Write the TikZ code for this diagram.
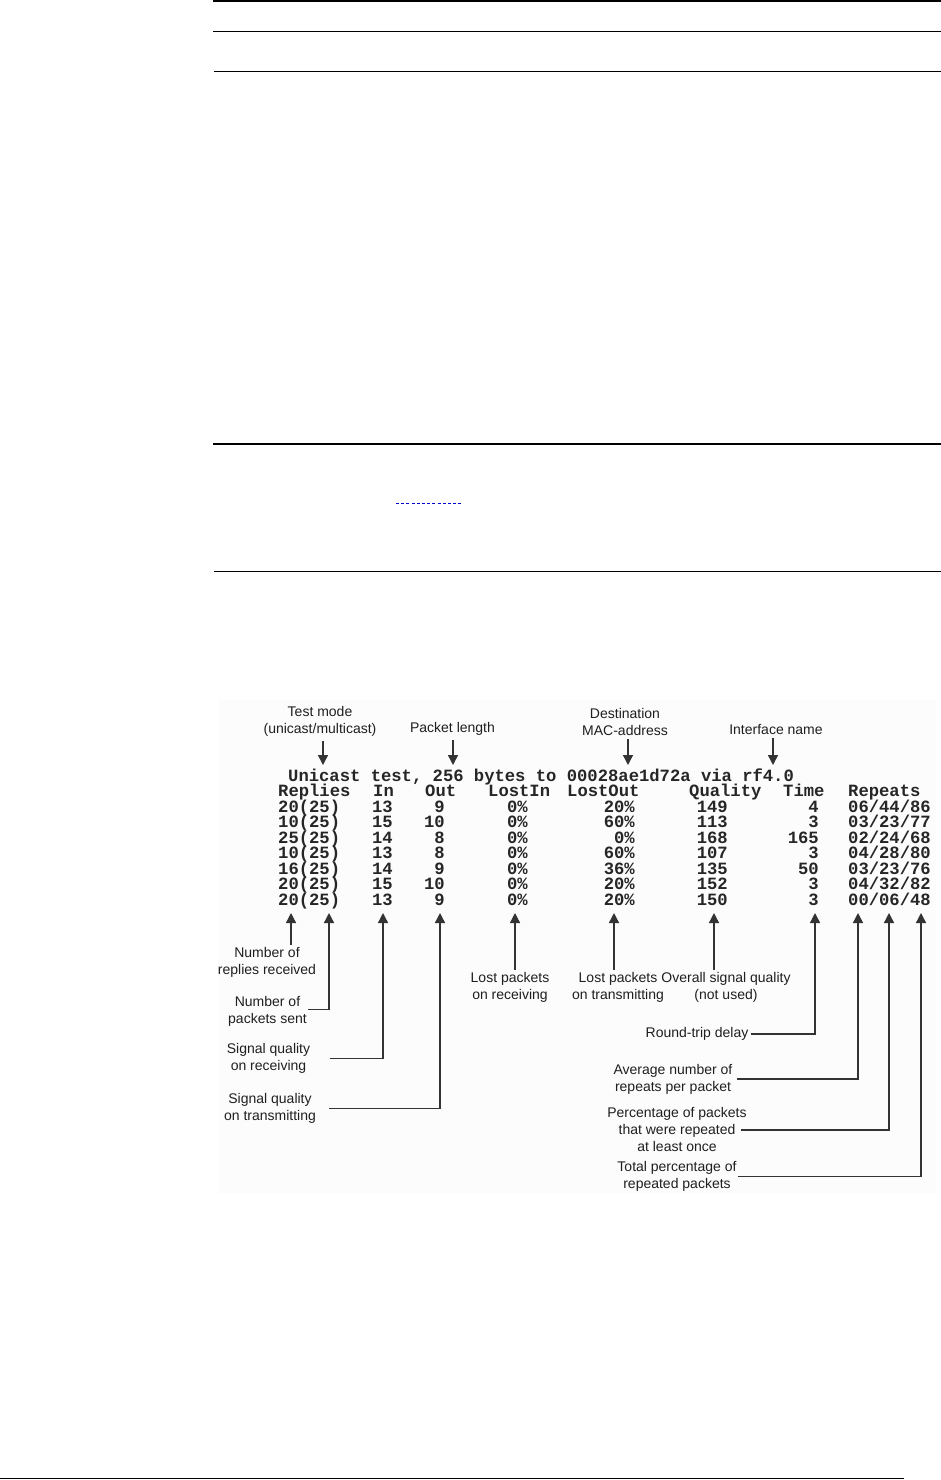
\documentclass[tikz,border=0pt]{standalone}
\usepackage{fontspec}
\setmainfont{Liberation Sans}
\newfontfamily\termfont{Liberation Mono}
\usetikzlibrary{arrows.meta}
\newcommand\datarow[9]{%
  \node[term,anchor=base west] (r#1a) at (278,{796.5+15.5*#1}) {#2};
  \node[term,anchor=base east] (r#1b) at (393,{796.5+15.5*#1}) {#3};
  \node[term,anchor=base east] (r#1c) at (445,{796.5+15.5*#1}) {#4};
  \node[term,anchor=base east] (r#1d) at (528,{796.5+15.5*#1}) {#5};
  \node[term,anchor=base east] (r#1e) at (635,{796.5+15.5*#1}) {#6};
  \node[term,anchor=base east] (r#1f) at (728,{796.5+15.5*#1}) {#7};
  \node[term,anchor=base east] (r#1g) at (819,{796.5+15.5*#1}) {#8};
  \node[term,anchor=base west] (r#1h) at (848,{796.5+15.5*#1}) {#9};
}
\begin{document}
\begin{tikzpicture}[x=1pt,y=-1pt,
  term/.style={font=\termfont\bfseries\fontsize{17.2}{17.2}\selectfont, text=black!85, inner sep=0pt},
  lbl/.style={font=\fontsize{14}{17}\selectfont, text=black!88, align=center, inner sep=0pt},
  arr/.style={draw=black!80, line width=1.4pt, -{Triangle[width=10pt,length=10pt]}},
  hrule/.style={draw=black, line width=#1}
]
\useasboundingbox (0,0) rectangle (941,1480);
\fill[white] (0,0) rectangle (941,1480);

% page rules
\draw[hrule=2.4pt] (213,1.2) -- (941,1.2);
\draw[hrule=1pt] (213,31.3) -- (941,31.3);
\draw[hrule=1pt] (214,72) -- (941,72);
\draw[hrule=2pt] (213,444) -- (941,444);
\draw[draw={rgb,255:red,0;green,0;blue,210}, line width=1pt, dash pattern=on 3pt off 2.2pt] (396,503) -- (462,503);
\draw[hrule=1pt] (214,571) -- (941,571);
\draw[hrule=1pt] (0,1478) -- (904,1478);

% screenshot background
\fill[black!1] (218,700) rectangle (936,1193);

% console text
\node[term,anchor=base west] (title) at (288,781) {Unicast test, 256 bytes to 00028ae1d72a via rf4.0};
\node[term,anchor=base west] (h1) at (278,796.5) {Replies};
\node[term,anchor=base west] (h2) at (373,796.5) {In};
\node[term,anchor=base west] (h3) at (425,796.5) {Out};
\node[term,anchor=base west] (h4) at (488,796.5) {LostIn};
\node[term,anchor=base west] (h5) at (567,796.5) {LostOut};
\node[term,anchor=base west] (h6) at (689,796.5) {Quality};
\node[term,anchor=base west] (h7) at (783,796.5) {Time};
\node[term,anchor=base west] (h8) at (848,796.5) {Repeats};
\datarow{1}{20(25)}{13}{9}{0\%}{20\%}{149}{4}{06/44/86}
\datarow{2}{10(25)}{15}{10}{0\%}{60\%}{113}{3}{03/23/77}
\datarow{3}{25(25)}{14}{8}{0\%}{0\%}{168}{165}{02/24/68}
\datarow{4}{10(25)}{13}{8}{0\%}{60\%}{107}{3}{04/28/80}
\datarow{5}{16(25)}{14}{9}{0\%}{36\%}{135}{50}{03/23/76}
\datarow{6}{20(25)}{15}{10}{0\%}{20\%}{152}{3}{04/32/82}
\datarow{7}{20(25)}{13}{9}{0\%}{20\%}{150}{3}{00/06/48}

% top labels
\coordinate (tTM) at (323,765);
\coordinate (tPL) at (453,765);
\coordinate (tDM) at (628,765);
\coordinate (tIN) at (773,765);
\node[lbl] (tm) at (320,721.5) {Test mode\\(unicast/multicast)};
\node[lbl] (pl) at (452.5,729) {Packet length};
\node[lbl] (dm) at (625,721.5) {Destination\\MAC-address};
\node[lbl] (in) at (776,729) {Interface name};
\draw[arr] ([yshift=-4pt]tm.south -| tTM) -- (tTM);
\draw[arr] ([yshift=-4pt]pl.south -| tPL) -- (tPL);
\draw[arr] ([yshift=-4pt]dm.south -| tDM) -- (tDM);
\draw[arr] ([yshift=-4pt]in.south -| tIN) -- (tIN);

% bottom tips
\coordinate (b1) at (291,913);
\coordinate (b2) at (329,913);
\coordinate (b3) at (383,913);
\coordinate (b4) at (440,913);
\coordinate (b5) at (515,913);
\coordinate (b6) at (614,913);
\coordinate (b7) at (714,913);
\coordinate (b8) at (815,913);
\coordinate (b9) at (858,913);
\coordinate (b10) at (889,913);
\coordinate (b11) at (921,913);

% bottom labels
\node[lbl] (nr) at (267,962.5) {Number of\\replies received};
\node[lbl] (ns) at (267.5,1011) {Number of\\packets sent};
\node[lbl] (sr) at (268.5,1058.5) {Signal quality\\on receiving};
\node[lbl] (st) at (270,1108.5) {Signal quality\\on transmitting};
\node[lbl] (lr) at (510,987) {Lost packets\\on receiving};
\node[lbl] (lt) at (618,987) {Lost packets\\on transmitting};
\node[lbl] (oq) at (726,987) {Overall signal quality\\(not used)};
\node[lbl] (rt) at (697,1034) {Round-trip delay};
\node[lbl] (av) at (673,1079) {Average number of\\repeats per packet};
\node[lbl] (pp) at (677,1129) {Percentage of packets\\that were repeated\\at least once};
\node[lbl] (tp) at (677,1176.5) {Total percentage of\\repeated packets};

\draw[arr] ([yshift=2pt]nr.north -| b1) -- (b1);
\draw[arr] ([xshift=1pt,yshift=1.5pt]ns.east) -| (b2);
\draw[arr] ([xshift=20pt]sr.east) -| (b3);
\draw[arr] ([xshift=13pt]st.east) -| (b4);
\draw[arr] ([yshift=2pt]lr.north -| b5) -- (b5);
\draw[arr] ([yshift=2pt]lt.north -| b6) -- (b6);
\draw[arr] ([yshift=2pt]oq.north -| b7) -- (b7);
\draw[arr] ([xshift=2pt]rt.east) -| (b8);
\draw[arr] ([xshift=4pt]av.east) -| (b9);
\draw[arr] ([xshift=-6pt,yshift=-1pt]pp.east) -| (b10);
\draw[arr] ([xshift=1pt]tp.east) -| (b11);
\end{tikzpicture}
\end{document}
